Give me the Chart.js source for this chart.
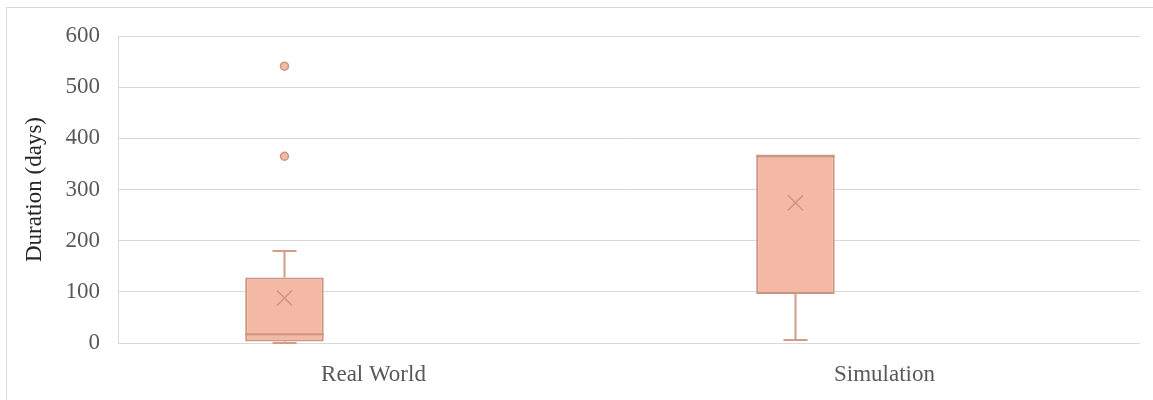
<!DOCTYPE html>
<html>
<head>
<meta charset="utf-8">
<script src="https://cdn.jsdelivr.net/npm/chart.js@4/dist/chart.umd.min.js"></script>
<style>
html,body{margin:0;padding:0;background:#fff;}
#wrap{width:1153px;height:400px;position:relative;}
</style>
</head>
<body>
<div id="wrap"><canvas id="c" width="1153" height="400"></canvas></div>
<script>
const categories = ['Real World', 'Simulation'];
const minVals = [0, 6];
const q1Vals = [3, 96];
const medianVals = [17, 366];
const q3Vals = [128, 366];
const maxVals = [180, 366];
const meanVals = [88, 274];
const outlierVals = [[365, 541], []];
const yTicks = [0, 100, 200, 300, 400, 500, 600];
const yTitle = 'Duration (days)';

const boxFill = '#F4B9A4';
const boxLine = '#CC9583';
const whiskerLine = '#D39C89';
const gridColor = '#D9D9D9';

const boxPlugin = {
  id: 'boxExtras',
  beforeDraw(chart) {
    const ctx = chart.ctx;
    ctx.save();
    ctx.strokeStyle = '#D9D9D9';
    ctx.lineWidth = 1;
    ctx.strokeRect(6.5, 7.5, 1200, 500);
    ctx.restore();
  },
  afterDatasetsDraw(chart) {
    const ctx = chart.ctx;
    const y = chart.scales.y;
    const meta = chart.getDatasetMeta(0);
    ctx.save();
    meta.data.forEach((bar, i) => {
      const cx = Math.round(bar.x) + 0.5;
      const half = bar.width / 2;
      const cap = 12;
      ctx.strokeStyle = whiskerLine;
      ctx.lineWidth = 2;
      if (maxVals[i] > q3Vals[i]) {
        const yt = y.getPixelForValue(maxVals[i]);
        const yb = y.getPixelForValue(q3Vals[i]);
        ctx.beginPath();
        ctx.moveTo(cx, yb); ctx.lineTo(cx, yt);
        ctx.moveTo(cx - cap, yt); ctx.lineTo(cx + cap, yt);
        ctx.stroke();
      }
      if (minVals[i] < q1Vals[i]) {
        const yt = y.getPixelForValue(q1Vals[i]);
        const yb = y.getPixelForValue(minVals[i]);
        ctx.beginPath();
        ctx.moveTo(cx, yt); ctx.lineTo(cx, yb);
        ctx.moveTo(cx - cap, yb); ctx.lineTo(cx + cap, yb);
        ctx.stroke();
      }
      const ym = y.getPixelForValue(medianVals[i]);
      ctx.strokeStyle = boxLine;
      ctx.beginPath();
      ctx.moveTo(bar.x - half, ym); ctx.lineTo(bar.x + half, ym);
      ctx.stroke();
      const ymean = y.getPixelForValue(meanVals[i]);
      const s = 7.5;
      ctx.strokeStyle = 'rgba(195,135,115,0.75)';
      ctx.lineWidth = 1.5;
      ctx.beginPath();
      ctx.moveTo(bar.x - s, ymean - s); ctx.lineTo(bar.x + s, ymean + s);
      ctx.moveTo(bar.x + s, ymean - s); ctx.lineTo(bar.x - s, ymean + s);
      ctx.stroke();
      outlierVals[i].forEach(v => {
        const yo = y.getPixelForValue(v);
        ctx.beginPath();
        ctx.arc(bar.x, yo, 4, 0, Math.PI * 2);
        ctx.fillStyle = boxFill;
        ctx.fill();
        ctx.strokeStyle = boxLine;
        ctx.lineWidth = 1.5;
        ctx.stroke();
      });
    });
    ctx.restore();
  }
};

new Chart(document.getElementById('c'), {
  type: 'bar',
  data: {
    labels: categories,
    datasets: [
      {
        label: 'Box',
        data: q1Vals.map((q, i) => [q, q3Vals[i]]),
        backgroundColor: boxFill,
        borderColor: boxLine,
        borderWidth: 2,
        borderSkipped: false,
        categoryPercentage: 0.697,
        barPercentage: 0.441
      },
      {
        label: 'Empty',
        data: categories.map(() => null),
        backgroundColor: 'rgba(0,0,0,0)',
        categoryPercentage: 0.697,
        barPercentage: 0.441
      }
    ]
  },
  options: {
    responsive: false,
    animation: false,
    devicePixelRatio: 1,
    layout: { padding: { left: 0, top: 36, right: 13, bottom: 0 } },
    plugins: { legend: { display: false }, tooltip: { enabled: false } },
    scales: {
      x: {
        grid: { display: false, drawTicks: false },
        border: { display: false },
        ticks: { color: '#595959', font: { family: 'Liberation Serif', size: 23 }, padding: 18 },
        afterFit(scale) { scale.height = 57; }
      },
      y: {
        min: 0, max: 600,
        afterBuildTicks(scale) { scale.ticks = yTicks.map(v => ({ value: v })); },
        grid: { color: gridColor, lineWidth: 1, drawTicks: false },
        border: { display: true, color: gridColor, width: 1 },
        ticks: { color: '#595959', font: { family: 'Liberation Serif', size: 23 }, padding: 18 },
        title: { display: true, text: yTitle, color: '#262626', font: { family: 'Liberation Serif', size: 23 }, padding: { top: 21, bottom: 0 } },
        afterFit(scale) { scale.width = 118; }
      }
    }
  },
  plugins: [boxPlugin]
});
</script>
</body>
</html>
